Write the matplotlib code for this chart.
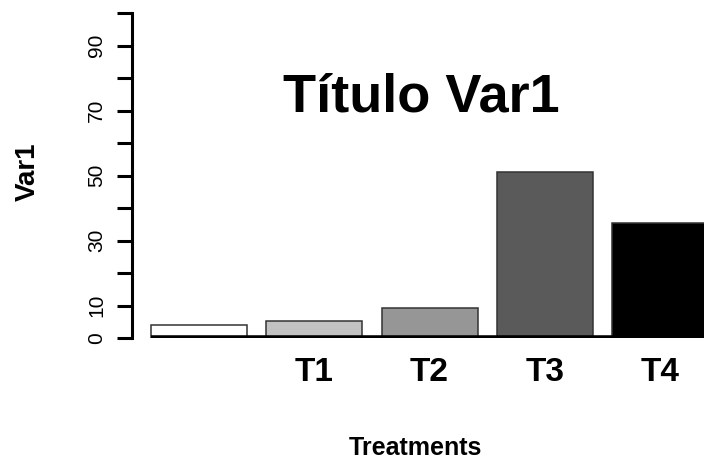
import matplotlib.pyplot as plt
import numpy as np

# bar heights (first bar has no name under it)
values = [4, 5.3, 9.3, 51, 35.5]
colors = ['white', '#c2c2c2', '#969696', '#5a5a5a', 'black']
names = ['T1', 'T2', 'T3', 'T4']
yticks = np.arange(0, 101, 10)
shown = [0, 10, 30, 50, 70, 90]

plt.rcParams['font.family'] = ['Liberation Sans', 'DejaVu Sans']

fig = plt.figure(figsize=(7.04, 4.66), dpi=100)
ax = fig.add_axes([132/704, 128/466, 572/704, 325/466])

x = 0.7 + 1.2*np.arange(len(values))  # R style barplot positions
ax.bar(x, values, width=1.0, color=colors, edgecolor='#333333', linewidth=1.1, zorder=2)
ax.set_xlim(0, 5.96)
ax.set_ylim(0, 100)
ax.hlines(0, x[0]-0.5, ax.get_xlim()[1], color='black', lw=4, zorder=3)

for s in ['top', 'right', 'bottom']:
    ax.spines[s].set_visible(False)
ax.spines['left'].set_linewidth(2.2)

ax.set_yticks(yticks)
ax.set_yticklabels([str(t) if t in shown else '' for t in yticks],
                   rotation=90, va='center', fontsize=15)
ax.tick_params(axis='y', length=10.8, width=2.2, pad=8)

ax.set_xticks(x[1:])
ax.set_xticklabels(names, fontsize=24, fontweight='bold')
ax.tick_params(axis='x', length=0, pad=14)

fig.text(421/704, 1-112/466, 'Título Var1', ha='center', va='baseline',
         fontsize=39, fontweight='bold')
fig.text(415/704, 1-455/466, 'Treatments', ha='center', va='baseline',
         fontsize=18, fontweight='bold')
fig.text(28/704, 1-172/466, 'Var1', rotation=90, ha='center', va='center',
         fontsize=20, fontweight='bold')

fig.savefig('out.png', dpi=100)
